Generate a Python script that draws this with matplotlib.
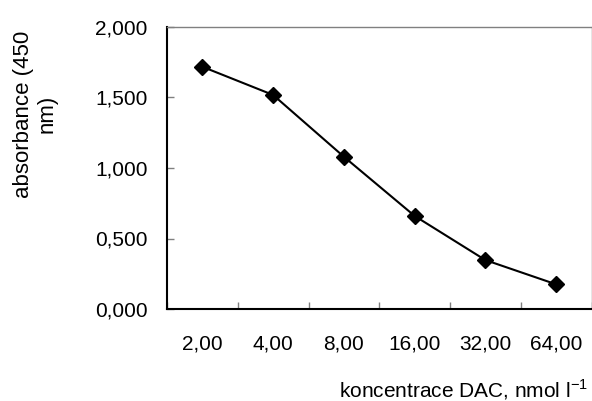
import matplotlib.pyplot as plt
import numpy as np

plt.rcParams['font.family'] = ['Liberation Sans', 'DejaVu Sans']

# koncentrace DAC (nmol/l) vs absorbance 450 nm
kategorie = ["2,00", "4,00", "8,00", "16,00", "32,00", "64,00"]
absorbance = [1.718, 1.518, 1.080, 0.660, 0.347, 0.175]
y_ticks = [0.0, 0.5, 1.0, 1.5, 2.0]

fig = plt.figure(figsize=(5.92, 4.01), dpi=100)
ax = fig.add_axes([167 / 592, 92 / 401, 424.5 / 592, 282 / 401])

x = np.arange(len(kategorie))
ax.plot(x, absorbance, color='black', lw=1.5, marker='D', ms=8,
        mfc='black', mec='black', zorder=3)

ax.set_xlim(-0.5, len(kategorie) - 0.5)
ax.set_ylim(0, 2.0)

# ticks on category boundaries, labels at centres
ax.set_xticks(np.arange(len(kategorie) + 1) - 0.5)
ax.set_xticklabels([])
ax.set_xticks(x, minor=True)
ax.set_xticklabels(kategorie, minor=True, fontsize=15)
ax.tick_params(axis='x', which='major', direction='in', length=5, width=1, color='#808080')
ax.tick_params(axis='x', which='minor', length=0, pad=18)

ax.set_yticks(y_ticks)
ax.set_yticklabels([f"{v:.3f}".replace('.', ',') for v in y_ticks], fontsize=15)
ax.tick_params(axis='y', direction='in', length=5, width=1, color='#808080', pad=14)

for s in ['left', 'bottom']:
    ax.spines[s].set_color('black')
    ax.spines[s].set_linewidth(1.5)
for s in ['top', 'right']:
    ax.spines[s].set_color('#808080')
    ax.spines[s].set_linewidth(1.0)

fig.text(35 / 592, 1 - 114 / 401, "absorbance (450\nnm)", rotation=90,
         ha='center', va='center', fontsize=16, multialignment='center',
         linespacing=1.15)
fig.text(588 / 592, 1 - 390 / 401, "koncentrace DAC, nmol l$^{\\mathregular{-1}}$",
         ha='right', va='center', fontsize=15)

fig.savefig("out.png", dpi=100)
